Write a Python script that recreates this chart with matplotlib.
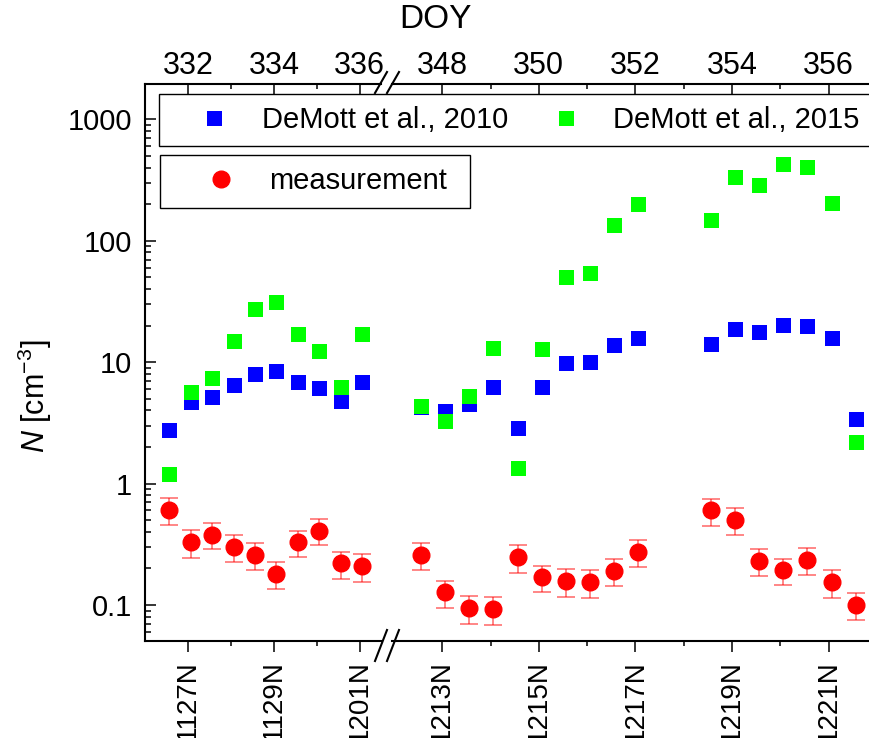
import matplotlib
matplotlib.use("Agg")
import matplotlib.pyplot as plt
from matplotlib.lines import Line2D

plt.rcParams['font.family'] = ['Liberation Sans', 'DejaVu Sans']
plt.rcParams['mathtext.fontset'] = 'custom'
plt.rcParams['mathtext.rm'] = 'Liberation Sans'
plt.rcParams['mathtext.it'] = 'Liberation Sans:italic'

# --- data (DOY of each sample) ---
doy = [331.56, 332.06, 332.56, 333.06, 333.56, 334.06, 334.56, 335.06, 335.56, 336.06,
       347.56, 348.06, 348.56, 349.06, 349.56, 350.06, 350.56, 351.06, 351.56, 352.06,
       353.56, 354.06, 354.56, 355.06, 355.56, 356.06, 356.56]

demott2010 = [2.76, 4.68, 5.14, 6.49, 8.04, 8.41, 6.91, 6.16, 4.82, 6.87,
              4.30, 3.96, 4.53, 6.28, 2.87, 6.21, 9.85, 10.1, 13.9, 15.9,
              14.2, 18.9, 17.8, 20.4, 20.0, 15.9, 3.40]

demott2015 = [1.21, 5.71, 7.41, 14.8, 27.3, 31.3, 17.1, 12.4, 6.21, 16.9,
              4.36, 3.30, 5.27, 13.1, 1.345, 12.85, 50.3, 54.6, 135, 202,
              147, 334, 287, 429, 403, 205, 2.21]

measurement = [0.61, 0.33, 0.38, 0.30, 0.26, 0.18, 0.33, 0.41, 0.22, 0.21,
               0.26, 0.127, 0.094, 0.093, 0.247, 0.169, 0.157, 0.154, 0.19, 0.273,
               0.60, 0.50, 0.23, 0.193, 0.235, 0.154, 0.100]

meas_err = [0.15, 0.085, 0.09, 0.075, 0.065, 0.045, 0.08, 0.10, 0.055, 0.055,
            0.065, 0.032, 0.024, 0.024, 0.062, 0.042, 0.04, 0.04, 0.048, 0.068,
            0.15, 0.125, 0.058, 0.048, 0.06, 0.04, 0.025]

ticks_left = [332, 334, 336]
ticks_right = [348, 350, 352, 354, 356]
dates_left = ['1127N', '1129N', '1201N']
dates_right = ['1213N', '1215N', '1217N', '1219N', '1221N']
minor_left = [333, 335]
minor_right = [349, 351, 353, 355]

yticks = [0.1, 1, 10, 100, 1000]
ylabels = ['0.1', '1', '10', '100', '1000']

# --- figure layout (pixel based, 870x738) ---
W, H = 870.0, 738.0
fig = plt.figure(figsize=(8.7, 7.38), dpi=100)
bottom = (H - 641) / H
height = (641 - 84) / H
axL = fig.add_axes([145 / W, bottom, (381 - 145) / W, height])
axR = fig.add_axes([392 / W, bottom, (875 - 392) / W, height])

FSX = 22
FSB = 20
FSY = 21
FSL = 21

for ax, xl, maj, mnr, dates in [(axL, (330.99, 336.50), ticks_left, minor_left, dates_left),
                                (axR, (346.96, 356.96), ticks_right, minor_right, dates_right)]:
    ax.errorbar(doy, measurement, yerr=meas_err, fmt='o', color='red', ms=12,
                ecolor=(1, 0, 0, 0.6), elinewidth=1.1, capsize=6.5, capthick=1.1, zorder=3)
    ax.plot(doy, demott2010, 's', color='#0000ff', ms=10.8, mew=0, zorder=2)
    ax.plot(doy, demott2015, 's', color='#00ff00', ms=10.8, mew=0, zorder=2.5)
    ax.set_yscale('log')
    ax.set_ylim(0.0505, 1953)
    ax.set_xlim(*xl)
    ax.set_xticks(maj, labels=dates, rotation=90)
    ax.set_xticks(mnr, minor=True)
    ax.tick_params(axis='x', which='major', direction='out', length=7.7, width=1.1,
                   labelsize=FSB, pad=6, top=False)
    ax.tick_params(axis='x', which='minor', direction='out', length=3.7, width=1.1, top=False)
    for s in ax.spines.values():
        s.set_linewidth(1.5)
    ax.spines['top'].set_visible(False)

    sec = ax.secondary_xaxis('top')
    sec.set_xticks(maj, labels=[str(t) for t in maj])
    sec.set_xticks(mnr, minor=True)
    sec.tick_params(axis='x', which='major', direction='in', length=7.7, width=1.1,
                    labelsize=FSX, pad=2.5)
    sec.tick_params(axis='x', which='minor', direction='in', length=3.7, width=1.1)
    sec.spines['top'].set_linewidth(1.5)

axL.spines['right'].set_visible(False)
axR.spines['left'].set_visible(False)
axR.spines['right'].set_visible(False)
axR.tick_params(axis='y', which='both', left=False, labelleft=False)

axL.set_yticks(yticks, labels=ylabels)
axL.tick_params(axis='y', which='major', direction='in', length=8, width=1.1,
                labelsize=FSY, pad=9.4)
axL.tick_params(axis='y', which='minor', direction='in', length=4.3, width=1.1)
axL.set_ylabel(r'$N$ [cm$^{-3}$]', fontsize=22)
axL.yaxis.set_label_coords(-0.385, 0.44)

fig.text(435 / W, 1 - 20 / H, 'DOY', ha='center', va='center', fontsize=24)

# axis break marks
for y0, y1 in [(93, 72), (661, 630)]:
    for dx in (0, 12):
        fig.add_artist(Line2D([(375 + dx) / W, (387 + dx) / W], [1 - y0 / H, 1 - y1 / H],
                              color='black', lw=1.5))

# legends
hb = Line2D([], [], ls='none', marker='s', color='#0000ff', ms=10.8, mew=0)
hg = Line2D([], [], ls='none', marker='s', color='#00ff00', ms=10.8, mew=0)
hr = Line2D([], [], ls='none', marker='o', color='red', ms=12)

leg1 = fig.legend([hb, hg], ['DeMott et al., 2010', 'DeMott et al., 2015'],
                  loc='upper left', bbox_to_anchor=(159 / W, 1 - 146 / H, 713 / W, 52 / H),
                  mode='expand', ncol=2, borderaxespad=0, fancybox=False, edgecolor='black',
                  fontsize=FSL, handlelength=2.94, handletextpad=0.17, borderpad=0.42,
                  framealpha=1)
leg1.get_frame().set_linewidth(1.0)

leg2 = fig.legend([hr], ['measurement'],
                  loc='upper left', bbox_to_anchor=(160 / W, 1 - 206 / H, 310 / W, 51 / H),
                  mode='expand', ncol=1, borderaxespad=0, fancybox=False, edgecolor='black',
                  fontsize=FSL, handlelength=3.33, handletextpad=0.0, borderpad=0.42,
                  framealpha=1)
leg2.get_frame().set_linewidth(1.0)

fig.savefig('out.png', dpi=100)
